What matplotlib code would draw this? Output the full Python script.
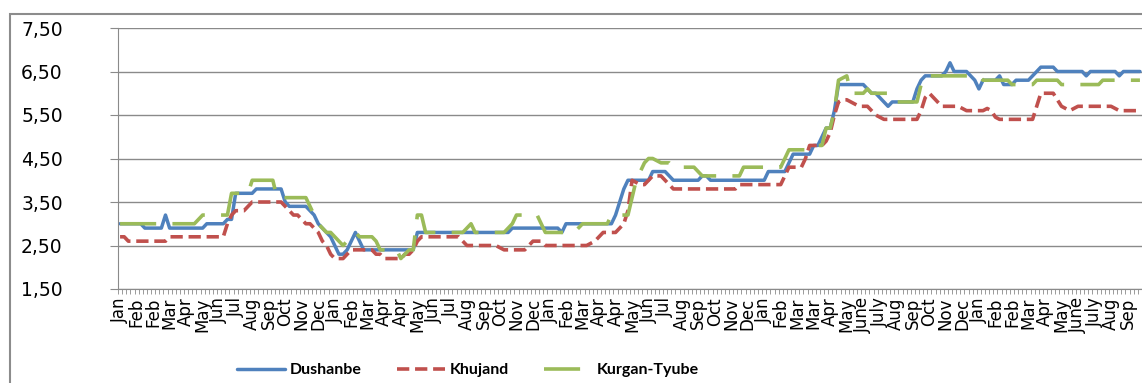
import numpy as np
import matplotlib.pyplot as plt
from matplotlib.patches import Rectangle

# weekly average prices, three cities
dushanbe = [
    3.0, 3.0, 3.0, 3.0, 3.0, 3.0, 2.9, 2.9, 2.9, 2.9, 2.9, 3.2, 2.9, 2.9, 2.9, 2.9,
    2.9, 2.9, 2.9, 2.9, 2.9, 3.0, 3.0, 3.0, 3.0, 3.0, 3.1, 3.1, 3.7, 3.7, 3.7, 3.7,
    3.7, 3.8, 3.8, 3.8, 3.8, 3.8, 3.8, 3.8, 3.5, 3.4, 3.4, 3.4, 3.4, 3.4, 3.3, 3.2,
    3.0, 2.9, 2.8, 2.7, 2.5, 2.3, 2.3, 2.4, 2.6, 2.8, 2.6, 2.4, 2.4, 2.4, 2.4, 2.4,
    2.4, 2.4, 2.4, 2.4, 2.4, 2.4, 2.4, 2.4, 2.8, 2.8, 2.8, 2.8, 2.8, 2.8, 2.8, 2.8,
    2.8, 2.8, 2.8, 2.8, 2.8, 2.8, 2.8, 2.8, 2.8, 2.8, 2.8, 2.8, 2.8, 2.8, 2.8, 2.9,
    2.9, 2.9, 2.9, 2.9, 2.9, 2.9, 2.9, 2.9, 2.9, 2.9, 2.9, 2.8, 3.0, 3.0, 3.0, 3.0,
    3.0, 3.0, 3.0, 3.0, 3.0, 3.0, 3.0, 3.0, 3.2, 3.5, 3.8, 4.0, 4.0, 4.0, 4.0, 4.0,
    4.0, 4.2, 4.2, 4.2, 4.2, 4.1, 4.0, 4.0, 4.0, 4.0, 4.0, 4.0, 4.0, 4.1, 4.1, 4.0,
    4.0, 4.0, 4.0, 4.0, 4.0, 4.0, 4.0, 4.0, 4.0, 4.0, 4.0, 4.0, 4.0, 4.2, 4.2, 4.2,
    4.2, 4.2, 4.4, 4.6, 4.6, 4.6, 4.6, 4.6, 4.8, 4.8, 5.0, 5.2, 5.2, 5.6, 6.2, 6.2,
    6.2, 6.2, 6.2, 6.2, 6.2, 6.1, 6.0, 6.0, 5.9, 5.8, 5.7, 5.8, 5.8, 5.8, 5.8, 5.8,
    5.8, 6.1, 6.3, 6.4, 6.4, 6.4, 6.4, 6.4, 6.5, 6.7, 6.5, 6.5, 6.5, 6.5, 6.4, 6.3,
    6.1, 6.3, 6.3, 6.3, 6.3, 6.4, 6.2, 6.2, 6.2, 6.3, 6.3, 6.3, 6.3, 6.4, 6.5, 6.6,
    6.6, 6.6, 6.6, 6.5, 6.5, 6.5, 6.5, 6.5, 6.5, 6.5, 6.4, 6.5, 6.5, 6.5, 6.5, 6.5,
    6.5, 6.5, 6.4, 6.5, 6.5, 6.5, 6.5, 6.5,
]

khujand = [
    2.7, 2.7, 2.6, 2.6, 2.6, 2.6, 2.6, 2.6, 2.6, 2.6, 2.6, 2.6, 2.7, 2.7, 2.7, 2.7,
    2.7, 2.7, 2.7, 2.7, 2.7, 2.7, 2.7, 2.7, 2.7, 2.7, 3.0, 3.2, 3.3, 3.3, 3.3, 3.4,
    3.5, 3.5, 3.5, 3.5, 3.5, 3.5, 3.5, 3.5, 3.4, 3.3, 3.2, 3.2, 3.1, 3.0, 3.0, 2.9,
    2.8, 2.6, 2.5, 2.3, 2.2, 2.2, 2.2, 2.3, 2.4, 2.4, 2.4, 2.4, 2.4, 2.4, 2.3, 2.3,
    2.2, 2.2, 2.2, 2.2, 2.2, 2.3, 2.3, 2.4, 2.6, 2.7, 2.7, 2.7, 2.7, 2.7, 2.7, 2.7,
    2.7, 2.7, 2.7, 2.6, 2.5, 2.5, 2.5, 2.5, 2.5, 2.5, 2.5, 2.5, 2.45, 2.4, 2.4, 2.4,
    2.4, 2.4, 2.4, 2.5, 2.6, 2.6, 2.6, 2.5, 2.5, 2.5, 2.5, 2.5, 2.5, 2.5, 2.5, 2.5,
    2.5, 2.5, 2.55, 2.6, 2.7, 2.8, 2.8, 2.8, 2.8, 2.9, 3.0, 3.3, 4.0, 3.95, 3.9, 3.9,
    4.0, 4.1, 4.1, 4.1, 4.0, 3.9, 3.8, 3.8, 3.8, 3.8, 3.8, 3.8, 3.8, 3.8, 3.8, 3.8,
    3.8, 3.8, 3.8, 3.8, 3.8, 3.8, 3.9, 3.9, 3.9, 3.9, 3.9, 3.9, 3.9, 3.9, 3.9, 3.9,
    3.9, 4.1, 4.3, 4.3, 4.3, 4.3, 4.5, 4.8, 4.8, 4.8, 4.8, 4.9, 5.1, 5.5, 5.8, 5.85,
    5.85, 5.8, 5.75, 5.7, 5.7, 5.7, 5.6, 5.5, 5.45, 5.4, 5.4, 5.4, 5.4, 5.4, 5.4, 5.4,
    5.4, 5.4, 5.6, 5.9, 6.0, 5.9, 5.8, 5.7, 5.7, 5.7, 5.7, 5.7, 5.65, 5.6, 5.6, 5.6,
    5.6, 5.6, 5.65, 5.6, 5.45, 5.4, 5.4, 5.4, 5.4, 5.4, 5.4, 5.4, 5.4, 5.4, 5.7, 6.0,
    6.0, 6.0, 6.0, 5.85, 5.7, 5.65, 5.6, 5.65, 5.7, 5.7, 5.7, 5.7, 5.7, 5.7, 5.7, 5.7,
    5.7, 5.65, 5.6, 5.6, 5.6, 5.6, 5.6, 5.6,
]

kurgan_tyube = [
    3.0, 3.0, 3.0, 3.0, 3.0, 3.0, 3.0, 3.0, 3.0, 3.0, 3.0, 3.0, 3.0, 3.0, 3.0, 3.0,
    3.0, 3.0, 3.0, 3.1, 3.2, 3.2, 3.2, 3.2, 3.2, 3.2, 3.2, 3.7, 3.7, 3.7, 3.7, 3.7,
    4.0, 4.0, 4.0, 4.0, 4.0, 4.0, 3.6, 3.6, 3.6, 3.6, 3.6, 3.6, 3.6, 3.6, 3.4, 3.2,
    3.0, 2.9, 2.8, 2.8, 2.7, 2.6, 2.5, 2.6, 2.7, 2.8, 2.7, 2.7, 2.7, 2.7, 2.6, 2.4,
    2.4, 2.4, 2.4, 2.4, 2.2, 2.3, 2.4, 2.4, 3.2, 3.2, 2.8, 2.8, 2.8, 2.8, 2.8, 2.8,
    2.8, 2.8, 2.8, 2.8, 2.9, 3.0, 2.8, 2.8, 2.8, 2.8, 2.8, 2.8, 2.8, 2.8, 2.9, 3.0,
    3.2, 3.2, 3.2, 3.2, 3.2, 3.2, 3.0, 2.8, 2.8, 2.8, 2.8, 2.8, 2.8, 2.8, 2.8, 2.9,
    3.0, 3.0, 3.0, 3.0, 3.0, 3.0, 3.0, 3.2, 3.2, 3.2, 3.2, 3.2, 3.6, 4.0, 4.2, 4.4,
    4.5, 4.5, 4.45, 4.4, 4.4, 4.4, 4.3, 4.3, 4.3, 4.3, 4.3, 4.3, 4.2, 4.1, 4.1, 4.1,
    4.1, 4.1, 4.1, 4.1, 4.1, 4.1, 4.1, 4.3, 4.3, 4.3, 4.3, 4.3, 4.3, 4.3, 4.3, 4.3,
    4.3, 4.5, 4.7, 4.7, 4.7, 4.7, 4.7, 4.8, 4.8, 4.8, 4.8, 5.2, 5.2, 5.6, 6.3, 6.35,
    6.4, 6.0, 6.0, 6.0, 6.0, 6.1, 6.0, 6.0, 6.0, 6.0, 6.0, 6.0, 5.8, 5.8, 5.8, 5.8,
    5.8, 5.8, 6.2, 6.4, 6.4, 6.4, 6.4, 6.4, 6.4, 6.4, 6.4, 6.4, 6.4, 6.4, 6.4, 6.4,
    6.4, 6.3, 6.3, 6.3, 6.3, 6.3, 6.3, 6.3, 6.2, 6.2, 6.2, 6.2, 6.2, 6.2, 6.3, 6.3,
    6.3, 6.3, 6.3, 6.3, 6.2, 6.2, 6.2, 6.2, 6.2, 6.2, 6.2, 6.2, 6.2, 6.2, 6.3, 6.3,
    6.3, 6.3, 6.3, 6.3, 6.3, 6.3, 6.3, 6.3,
]

# one label every fourth week
month_labels = [
    'Jan', 'Feb', 'Feb', 'Mar', 'Apr', 'May', 'Jun', 'Jul', 'Aug', 'Sep', 'Oct', 'Nov', 'Dec',
    'Jan', 'Feb', 'Mar', 'Apr', 'Apr', 'May', 'Jun', 'Jul', 'Aug', 'Sep', 'Oct', 'Nov', 'Dec',
    'Jan', 'Feb', 'Mar', 'Apr', 'Apr', 'May', 'Jun', 'Jul', 'Aug', 'Sep', 'Oct', 'Nov', 'Dec',
    'Jan', 'Feb', 'Mar', 'Mar', 'Apr', 'May', 'June', 'July', 'Aug', 'Sep', 'Oct', 'Nov', 'Dec',
    'Jan', 'Feb', 'Feb', 'Mar', 'Apr', 'May', 'June', 'July', 'Aug', 'Sep',
]
label_step = 4

W, H = 1142, 383
fig = plt.figure(figsize=(W / 100, H / 100), dpi=100)

# chart frame
fig.patches.append(Rectangle((10 / W, -0.05), 1.1, (H - 14) / H + 0.05,
                             transform=fig.transFigure, fill=False,
                             edgecolor='#8c8c8c', linewidth=1.5, clip_on=False))

ax = fig.add_axes([118 / W, 1 - 289 / H, (W - 118) / W, (289 - 28) / H])

weeks = np.arange(len(dushanbe))
grid_col = '#8a8a8a'

ax.plot(weeks, dushanbe, color='#4F81BD', lw=2.5, solid_joinstyle='round',
        solid_capstyle='round', label='Dushanbe')
ax.plot(weeks, khujand, color='#C0504D', lw=2.6, dashes=(3.4, 1.6),
        dash_joinstyle='round', label='Khujand')
ax.plot(weeks, kurgan_tyube, color='#9BBB59', lw=2.6, dashes=(10, 4.5),
        dash_joinstyle='round', label='Kurgan-Tyube')

ax.set_xlim(-0.5, len(dushanbe) - 0.5)
ax.set_ylim(1.5, 7.5)

yt = np.arange(1.5, 7.51, 1.0)
ax.set_yticks(yt)
ax.set_yticklabels([f'{v:.2f}'.replace('.', ',') for v in yt], fontsize=13.5)
ax.yaxis.grid(True, color=grid_col, lw=1)
ax.set_axisbelow(True)

ax.set_xticks(np.arange(0, len(month_labels) * label_step, label_step))
ax.set_xticklabels(month_labels, rotation=90, fontsize=12)
ax.set_xticks(np.arange(-0.5, len(dushanbe), 1), minor=True)

ax.tick_params(axis='y', length=5.8, color=grid_col, pad=34)
ax.tick_params(axis='x', which='major', length=0, pad=6)
ax.tick_params(axis='x', which='minor', length=3.6, color=grid_col)

for side in ('top', 'right'):
    ax.spines[side].set_visible(False)
for side in ('left', 'bottom'):
    ax.spines[side].set_color(grid_col)

fig.legend(loc='center', bbox_to_anchor=(468 / W, 1 - 370 / H), ncol=3,
           frameon=False, handlelength=3.0, handletextpad=0.3, columnspacing=2.2,
           prop={'family': ['Lato', 'DejaVu Sans'], 'weight': 'bold', 'size': 11.5})

fig.savefig('out.png', dpi=100)
